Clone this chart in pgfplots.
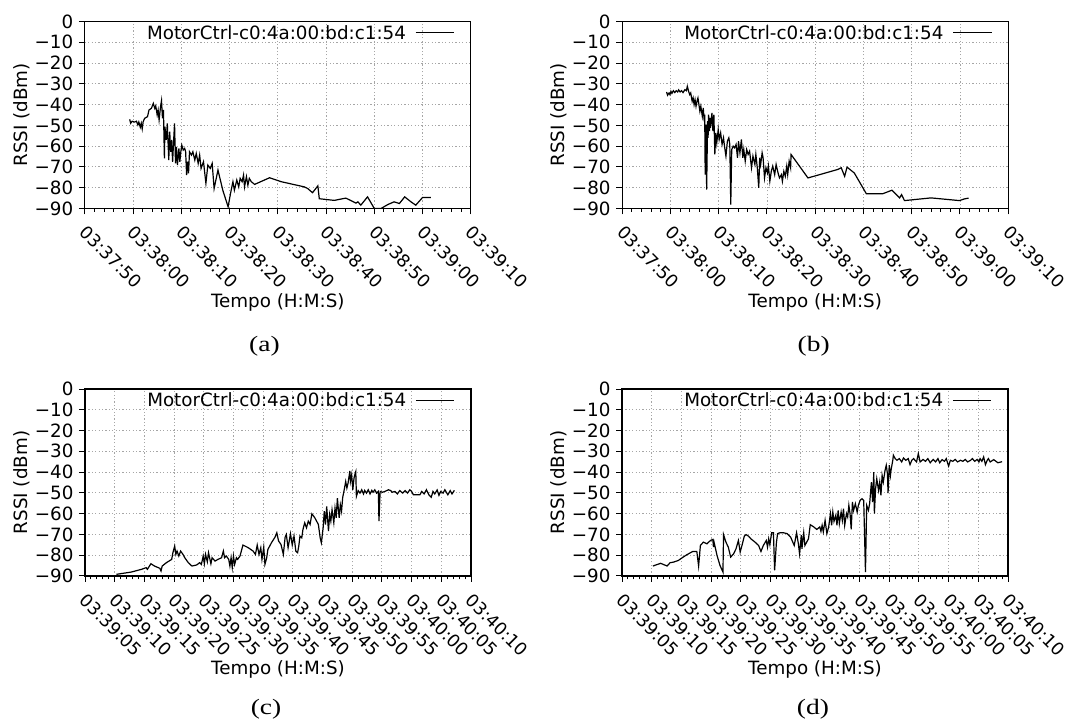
\documentclass[border=0pt]{standalone}
\usepackage{fontspec}
\setmainfont{DejaVu Sans}
\newfontfamily\serifcap{Liberation Serif}
\usepackage{pgfplots}
\usepackage{pgfplotstable}
\pgfplotsset{compat=1.18}

\newcommand\lab{\fontsize{18.3}{22}\selectfont}
\newcommand\xlab{\fontsize{17.5}{21}\selectfont}
\newcommand\capf{\serifcap\fontsize{22}{26}\selectfont}

% t = seconds since 03:37:50 (a,b) or 03:39:05 (c,d), rssi in dBm
\pgfplotstableread{
t rssi
9.3 -47.1
9.5 -49.0
9.8 -48.0
10.3 -48.4
10.7 -48.0
11.0 -49.8
11.2 -48.4
11.5 -50.9
11.7 -49.0
11.9 -51.7
12.1 -48.2
12.4 -46.6
13.0 -45.8
13.3 -42.6
13.8 -41.8
14.2 -39.4
14.5 -41.8
14.7 -40.6
15.0 -45.0
15.2 -42.6
15.4 -47.4
15.7 -41.0
15.9 -38.1
16.1 -46.6
16.3 -42.6
16.5 -65.9
16.6 -50.6
16.9 -57.0
17.1 -49.0
17.4 -66.7
17.6 -53.0
17.8 -62.7
18.0 -57.0
18.2 -67.5
18.4 -57.9
18.6 -49.0
18.8 -68.3
19.0 -60.3
19.2 -69.1
19.5 -61.1
19.7 -67.5
19.9 -62.7
20.1 -59.5
20.4 -61.9
20.7 -61.1
20.9 -62.7
21.1 -73.9
21.3 -67.5
21.5 -73.1
21.7 -62.7
22.1 -64.3
22.4 -62.7
22.8 -66.7
23.1 -63.5
23.5 -68.3
23.8 -64.3
24.1 -70.7
24.6 -67.5
25.1 -77.9
25.5 -69.1
26.0 -70.7
26.4 -68.3
26.8 -80.4
27.6 -71.5
28.6 -81.2
29.7 -89.2
30.2 -82.8
30.7 -77.1
31.0 -81.2
31.5 -76.3
31.9 -79.6
32.2 -75.5
32.6 -77.1
32.9 -73.9
33.1 -79.6
33.5 -74.7
33.8 -78.8
34.1 -75.5
34.5 -77.1
35.2 -78.4
38.3 -75.2
40.7 -77.1
45.5 -79.6
46.2 -80.4
47.2 -82.4
48.3 -79.1
48.6 -85.3
51.7 -86.1
54.1 -85.0
56.2 -87.4
56.6 -86.8
57.2 -88.4
58.6 -84.4
60.0 -90.0
61.4 -90.0
62.8 -88.1
64.1 -86.8
65.2 -87.6
66.3 -84.4
67.6 -86.8
68.6 -88.4
70.0 -84.7
71.7 -84.7
}\dataA

\pgfplotstableread{
t rssi
9.2 -33.9
9.4 -35.5
9.7 -34.4
9.9 -35.2
10.1 -33.6
10.3 -34.6
10.6 -33.3
10.9 -34.2
11.2 -33.3
11.5 -33.9
11.7 -32.9
12.0 -33.9
12.3 -33.3
12.6 -34.2
13.0 -32.8
13.3 -33.3
13.5 -31.2
13.8 -33.9
14.0 -35.2
14.2 -34.4
14.5 -38.4
14.7 -36.8
14.9 -40.0
15.1 -37.6
15.3 -40.8
15.5 -38.4
15.7 -36.8
15.9 -40.0
16.1 -43.2
16.3 -40.8
16.6 -45.6
16.8 -41.6
17.0 -48.0
17.1 -44.8
17.2 -73.7
17.4 -49.6
17.5 -80.9
17.7 -48.0
17.8 -56.0
17.9 -44.8
18.1 -52.8
18.2 -46.4
18.3 -51.2
18.6 -44.0
18.8 -52.8
19.0 -44.8
19.2 -64.0
19.4 -53.6
19.6 -58.4
19.9 -52.0
20.1 -56.8
20.4 -53.6
20.7 -59.2
21.0 -56.0
21.2 -60.0
21.5 -64.8
21.8 -57.6
22.1 -56.0
22.3 -59.2
22.5 -88.1
22.7 -61.6
23.0 -60.0
23.3 -60.8
23.6 -59.2
23.9 -65.6
24.1 -57.6
24.4 -63.2
24.7 -56.8
25.0 -65.6
25.2 -61.6
25.5 -67.2
25.8 -61.6
26.1 -64.0
26.4 -62.4
26.8 -70.4
27.1 -64.8
27.5 -68.8
27.7 -64.0
28.0 -70.4
28.3 -80.1
28.5 -65.6
28.7 -68.8
29.0 -63.2
29.2 -65.6
29.5 -75.3
29.8 -70.4
30.1 -72.9
30.3 -69.6
30.6 -76.9
30.9 -72.1
31.2 -69.6
31.6 -73.7
31.9 -68.8
32.3 -72.9
32.6 -75.3
33.0 -73.7
33.2 -76.9
33.5 -72.1
33.8 -74.5
34.1 -69.6
34.3 -73.7
34.6 -67.2
34.9 -70.4
35.0 -64.0
38.5 -75.3
44.7 -71.2
45.4 -70.4
46.1 -74.5
46.6 -70.1
48.1 -72.9
50.6 -82.9
54.0 -82.9
55.9 -81.2
57.5 -84.9
57.9 -83.3
58.5 -86.2
64.0 -84.9
69.9 -86.2
70.9 -85.4
71.8 -85.0
}\dataB

\pgfplotstableread{
t rssi
5.3 -89.2
7.8 -88.1
9.5 -86.8
10.3 -86.0
10.5 -86.8
11.1 -84.1
11.7 -85.2
12.6 -86.3
12.8 -87.6
13.0 -85.2
13.7 -83.6
14.6 -82.0
14.8 -78.8
15.1 -75.6
15.3 -79.6
15.5 -78.0
15.8 -80.4
16.1 -78.0
16.5 -79.6
16.8 -81.2
17.4 -83.6
18.0 -85.2
18.8 -84.7
19.3 -83.6
19.6 -84.4
19.9 -80.4
20.1 -84.1
20.3 -79.6
20.6 -83.1
20.8 -78.8
21.2 -84.1
21.4 -81.2
21.9 -82.8
22.4 -82.0
23.0 -81.2
23.3 -78.0
23.5 -81.2
23.8 -80.4
24.2 -82.0
24.4 -85.2
24.6 -81.2
24.8 -86.0
25.0 -80.4
25.2 -84.4
25.5 -81.2
25.7 -82.0
26.1 -80.4
26.6 -75.1
27.5 -76.4
28.3 -78.0
28.7 -79.6
29.0 -75.1
29.3 -79.6
29.6 -76.4
29.8 -82.0
30.1 -76.1
30.3 -84.4
30.6 -81.2
30.8 -77.2
31.4 -74.0
32.0 -71.3
32.3 -69.2
32.6 -73.2
33.0 -74.8
33.4 -79.6
33.7 -71.3
33.9 -70.0
34.2 -76.4
34.6 -69.7
34.9 -75.1
35.2 -70.8
35.5 -78.0
35.8 -78.8
36.0 -75.6
36.2 -70.8
36.5 -71.6
36.7 -67.6
37.0 -64.4
37.3 -66.8
37.6 -63.6
37.9 -65.2
38.2 -60.1
38.4 -60.8
38.7 -62.0
39.0 -63.6
39.3 -65.2
39.6 -71.6
39.8 -74.0
40.1 -66.8
40.3 -58.8
40.5 -65.2
40.7 -56.5
41.0 -68.4
41.2 -60.4
41.4 -63.6
41.6 -58.1
41.9 -64.4
42.1 -57.3
42.3 -62.0
42.5 -52.5
42.8 -62.0
43.0 -55.7
43.2 -58.8
43.4 -52.1
43.6 -49.3
43.8 -46.1
43.9 -44.5
44.1 -47.7
44.3 -45.3
44.6 -39.4
44.7 -44.5
44.9 -41.3
45.1 -48.5
45.3 -42.9
45.5 -40.5
45.6 -39.7
45.7 -51.7
46.0 -48.9
46.3 -50.1
46.6 -48.5
46.9 -50.5
47.1 -48.8
47.4 -50.1
47.7 -48.5
48.0 -50.5
48.3 -48.8
48.5 -49.7
48.8 -48.5
49.1 -50.1
49.4 -49.3
49.5 -63.6
49.7 -49.3
50.1 -49.7
50.5 -49.3
51.1 -48.5
51.5 -48.9
51.7 -49.7
52.2 -49.3
52.6 -50.5
53.0 -48.9
53.5 -50.1
53.9 -48.9
54.3 -50.1
54.7 -48.5
55.0 -49.3
55.3 -50.9
56.4 -50.9
56.7 -49.3
57.1 -50.5
57.5 -48.5
57.9 -50.9
58.3 -52.1
58.6 -49.3
58.9 -50.5
59.3 -48.6
59.6 -51.2
59.9 -49.3
60.3 -50.1
60.6 -48.5
61.1 -50.9
61.5 -48.9
61.8 -50.5
62.2 -48.8
}\dataC

\pgfplotstableread{
t rssi
5.2 -85.2
5.8 -84.6
6.5 -83.9
7.1 -84.6
7.6 -85.2
8.1 -83.6
8.7 -83.3
9.5 -82.5
10.3 -80.9
10.9 -79.8
11.9 -78.2
12.6 -78.2
12.9 -85.2
13.2 -75.3
13.7 -73.7
14.3 -74.5
14.9 -72.9
15.3 -72.4
15.4 -76.1
15.5 -73.7
16.0 -80.1
16.5 -84.9
17.0 -88.1
17.1 -70.1
17.5 -73.7
17.9 -76.1
18.3 -80.9
18.8 -79.3
19.2 -76.9
19.6 -72.9
19.9 -78.5
20.2 -75.3
20.6 -70.8
20.9 -70.1
21.3 -70.8
21.7 -72.1
22.4 -73.7
23.0 -75.3
23.4 -78.2
23.8 -75.3
24.3 -72.9
24.5 -76.1
24.7 -72.1
24.9 -74.9
25.2 -69.2
25.5 -69.2
25.7 -87.3
26.0 -74.0
26.2 -69.6
26.6 -69.2
27.2 -69.2
27.8 -69.6
28.4 -71.3
29.0 -75.3
29.4 -69.2
29.7 -74.5
29.9 -79.3
30.2 -70.4
30.3 -76.9
30.6 -69.2
30.8 -75.3
31.1 -73.7
31.4 -72.1
31.7 -65.3
32.3 -66.4
32.8 -67.6
33.3 -66.4
33.5 -68.5
33.7 -65.6
33.9 -68.8
34.2 -63.2
34.5 -69.6
34.8 -66.4
35.1 -60.0
35.3 -65.6
35.5 -59.2
35.7 -63.7
36.0 -60.8
36.2 -65.6
36.4 -58.4
36.6 -64.8
36.9 -59.2
37.1 -63.2
37.3 -57.6
37.5 -65.6
37.8 -60.0
38.0 -61.6
38.2 -56.0
38.4 -60.0
38.6 -67.6
38.8 -54.4
39.0 -58.4
39.3 -55.2
39.6 -59.2
39.8 -56.0
40.1 -53.6
40.4 -52.8
40.7 -53.6
41.0 -88.1
41.2 -56.0
41.5 -58.4
41.7 -55.2
42.0 -44.8
42.2 -54.4
42.4 -40.0
42.5 -60.0
42.7 -48.0
42.9 -43.2
43.2 -48.8
43.4 -44.8
43.6 -51.2
43.8 -41.6
44.0 -44.8
44.3 -39.1
44.5 -36.7
44.7 -40.8
44.8 -50.1
45.0 -36.7
45.2 -41.6
45.3 -39.1
45.6 -34.3
45.7 -31.9
46.0 -33.5
46.3 -34.3
46.7 -33.5
47.1 -35.1
47.4 -33.2
47.8 -34.3
48.2 -33.5
48.5 -36.4
48.8 -34.3
49.1 -33.5
49.6 -35.1
49.9 -31.1
50.2 -35.1
50.7 -33.9
51.1 -34.8
51.5 -33.5
51.9 -35.5
52.4 -33.9
52.8 -35.1
53.2 -33.5
53.5 -35.5
53.9 -34.0
54.3 -34.8
54.6 -33.5
55.0 -37.1
55.3 -34.3
55.7 -34.8
56.1 -33.9
56.5 -35.1
57.0 -34.3
57.4 -34.8
57.8 -33.9
58.2 -35.1
58.7 -34.3
59.0 -33.5
59.4 -34.8
59.8 -33.9
60.1 -35.1
60.3 -33.5
60.6 -34.8
60.9 -32.7
61.2 -36.4
61.5 -34.3
61.7 -33.5
62.0 -35.1
62.6 -34.0
63.3 -35.5
64.0 -35.0
}\dataD

\pgfplotsset{
  rssi/.style={
    scale only axis, width=386pt, height=187pt,
    anchor=south west,
    xmin=0, ymin=-90, ymax=0,
    ytick={-90,-80,...,0},
    yticklabels={−90,−80,−70,−60,−50,−40,−30,−20,−10,0},
    tick align=outside, xtick pos=bottom, ytick pos=left,
    major tick length=6pt, minor tick length=3.5pt,
    minor x tick num=4,
    every tick/.style={black, line width=1pt},
    axis line style={line width=1.1pt},
    grid=major,
    major grid style={draw=gray!70, line width=0.9pt, dash pattern=on 1.2pt off 2.2pt},
    yticklabel style={font=\lab, anchor=east, inner sep=0pt, xshift=-5.4pt},
    xticklabel style={font=\xlab, inner sep=0pt, anchor=north west, xshift=3pt, yshift=-10pt, rotate=-45},
    xlabel={Tempo (H:M:S)}, ylabel={RSSI (dBm)},
    label style={font=\lab},
    xlabel style={at={(axis description cs:0.5,-0.529)}, anchor=base},
    ylabel style={at={(axis description cs:-0.1484,0.5)}, anchor=base},
    legend plot pos=right,
    legend cell align=right,
    legend image code/.code={\draw[##1] (0pt,0pt) -- (38.6pt,0pt);},
    legend style={draw=none, fill=none, at={(axis description cs:1,1)},
      anchor=north east, xshift=-15.8pt, yshift=-3.4pt, inner sep=0pt,
      font=\lab, column sep=9pt, nodes={inner sep=0pt}},
  },
  early/.style={xmax=80, xtick={0,10,...,80},
    xticklabels={03:37:50,03:38:00,03:38:10,03:38:20,03:38:30,03:38:40,03:38:50,03:39:00,03:39:10}},
  late/.style={xmax=65, xtick={0,5,...,65},
    xticklabels={03:39:05,03:39:10,03:39:15,03:39:20,03:39:25,03:39:30,03:39:35,03:39:40,03:39:45,03:39:50,03:39:55,03:40:00,03:40:05,03:40:10}},
  trace/.style={black, line width=1.2pt, mark=none},
}

\begin{document}
\begin{tikzpicture}
\path[use as bounding box] (0pt,0pt) rectangle (1072pt,722pt);

\begin{axis}[rssi, early, at={(84.8pt,513.5pt)}]
\addplot[trace] table[x=t, y=rssi] {\dataA};
\addlegendentry{MotorCtrl-c0:4a:00:bd:c1:54}
\end{axis}

\begin{axis}[rssi, early, at={(622.2pt,513.5pt)}]
\addplot[trace] table[x=t, y=rssi] {\dataB};
\addlegendentry{MotorCtrl-c0:4a:00:bd:c1:54}
\end{axis}

\begin{axis}[rssi, late, at={(85pt,146pt)}]
\addplot[trace] table[x=t, y=rssi] {\dataC};
\addlegendentry{MotorCtrl-c0:4a:00:bd:c1:54}
\end{axis}

\begin{axis}[rssi, late, at={(622pt,146pt)}]
\addplot[trace] table[x=t, y=rssi] {\dataD};
\addlegendentry{MotorCtrl-c0:4a:00:bd:c1:54}
\end{axis}

\node[font=\capf, anchor=base, xscale=1.25] at (264.4pt,370pt) {(a)};
\node[font=\capf, anchor=base, xscale=1.25] at (813.7pt,370pt) {(b)};
\node[font=\capf, anchor=base, xscale=1.25] at (266.1pt,7pt) {(c)};
\node[font=\capf, anchor=base, xscale=1.25] at (813pt,7pt) {(d)};
\end{tikzpicture}
\end{document}
